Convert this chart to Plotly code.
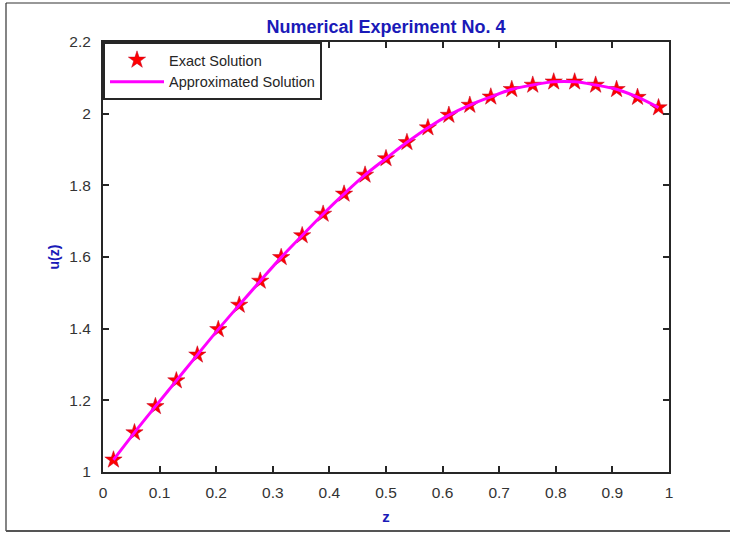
import plotly.graph_objects as go

z = [0.0185, 0.0556, 0.0926, 0.1296, 0.1667, 0.2037, 0.2407, 0.2778, 0.3148,
     0.3519, 0.3889, 0.4259, 0.4630, 0.5000, 0.5370, 0.5741, 0.6111, 0.6481,
     0.6852, 0.7222, 0.7593, 0.7963, 0.8333, 0.8704, 0.9074, 0.9444, 0.9815]
u_exact = [1.034, 1.110, 1.183, 1.255, 1.327, 1.398, 1.466, 1.533, 1.599,
           1.660, 1.720, 1.776, 1.829, 1.875, 1.920, 1.961, 1.996, 2.024,
           2.047, 2.068, 2.080, 2.089, 2.089, 2.080, 2.068, 2.046, 2.017]
u_approx = list(u_exact)

x_ticks = [0, 0.1, 0.2, 0.3, 0.4, 0.5, 0.6, 0.7, 0.8, 0.9, 1]
x_labels = ["0", "0.1", "0.2", "0.3", "0.4", "0.5", "0.6", "0.7", "0.8", "0.9", "1"]
y_ticks = [1, 1.2, 1.4, 1.6, 1.8, 2, 2.2]
y_labels = ["1", "1.2", "1.4", "1.6", "1.8", "2", "2.2"]

FONT = "Liberation Sans, Arial, sans-serif"
BLUE = "#1a1ab8"
AX = "#262626"
TXT = "#333333"

fig = go.Figure()
fig.add_trace(go.Scatter(
    x=z, y=u_exact, mode="markers", name="Exact Solution",
    marker=dict(symbol="star", size=13, color="#ff0000",
                line=dict(color="#c00020", width=0.5)),
))
fig.add_trace(go.Scatter(
    x=z, y=u_approx, mode="lines", name="Approximated Solution",
    line=dict(color="#ff00ff", width=3, shape="spline"),
))

fig.update_layout(
    width=730, height=534,
    margin=dict(l=103, r=61, t=42, b=62),
    paper_bgcolor="white", plot_bgcolor="white",
    font=dict(family=FONT, size=15, color=TXT),
    title=dict(text="<b>Numerical Experiment No. 4</b>", x=0.5, xref="paper",
               xanchor="center", yref="container", y=1 - 27 / 534,
               yanchor="middle",
               font=dict(family=FONT, size=18, color=BLUE)),
    showlegend=True,
    legend=dict(x=0, y=1, xanchor="left", yanchor="top",
                bgcolor="white", bordercolor=AX, borderwidth=2,
                font=dict(family=FONT, size=14.5, color="#262626"),
                itemwidth=54, tracegroupgap=0),
    xaxis=dict(range=[0, 1], tickvals=x_ticks, ticktext=x_labels,
               showgrid=False, zeroline=False, showline=True, linecolor=AX,
               linewidth=2, mirror="ticks", ticks="inside", ticklen=6,
               tickwidth=1.5, tickcolor=AX, ticklabelstandoff=5,
               tickfont=dict(family=FONT, size=15.5, color=TXT),
               title=dict(text="<b>z</b>", standoff=12,
                          font=dict(family=FONT, size=15, color=BLUE))),
    yaxis=dict(range=[1, 2.2], tickvals=y_ticks, ticktext=y_labels,
               showgrid=False, zeroline=False, showline=True, linecolor=AX,
               linewidth=2, mirror="ticks", ticks="inside", ticklen=6,
               tickwidth=1.5, tickcolor=AX, ticklabelstandoff=7,
               tickfont=dict(family=FONT, size=15.5, color=TXT),
               title=dict(text="<b>u(z)</b>", standoff=6,
                          font=dict(family=FONT, size=14, color=BLUE))),
)

# outer frame of the screenshot
W, H = 566, 430
def px(xp):
    return (xp - 103) / W
def py(yp):
    return (472 - yp) / H
fig.add_shape(type="line", xref="paper", yref="paper",
              x0=px(6), x1=px(732), y0=py(3), y1=py(3),
              line=dict(color="#333333", width=1.2))
fig.add_shape(type="line", xref="paper", yref="paper",
              x0=px(6), x1=px(6), y0=py(3), y1=py(531),
              line=dict(color="#333333", width=1.2))
fig.add_shape(type="line", xref="paper", yref="paper",
              x0=px(6), x1=px(732), y0=py(531), y1=py(531),
              line=dict(color="#555555", width=2))

fig.write_html("out.html")
